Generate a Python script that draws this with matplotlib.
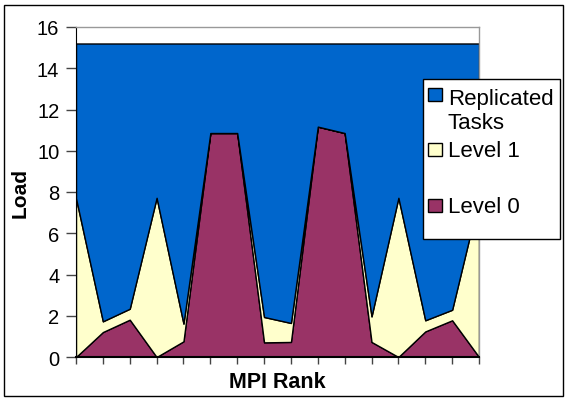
import matplotlib
matplotlib.use("Agg")
import matplotlib.pyplot as plt
from matplotlib.patches import Rectangle
import numpy as np

plt.rcParams['font.family'] = ['Liberation Sans', 'DejaVu Sans']

ranks = list(range(16))
level0 = [0.0, 1.21, 1.81, 0.0, 0.76, 10.86, 10.86, 0.71, 0.73, 11.17, 10.86, 0.73, 0.0, 1.24, 1.78, 0.0]
level1_top = [7.7, 1.73, 2.34, 7.72, 1.62, 10.86, 10.86, 1.94, 1.65, 11.17, 10.86, 1.97, 7.72, 1.78, 2.29, 7.7]
total = 15.2
level1 = [t - a for t, a in zip(level1_top, level0)]
replicated = [total - t for t in level1_top]

series_names = ["Level 0", "Level 1", "Replicated\nTasks"]
colors = ["#993366", "#FFFFCC", "#0066CC"]
yticks = [0, 2, 4, 6, 8, 10, 12, 14, 16]

W, H = 568, 402
fig = plt.figure(figsize=(W / 100, H / 100), dpi=100)
ax = fig.add_axes([76 / W, 1 - 358 / H, (479 - 76) / W, (358 - 28) / H])

ys = np.vstack([level0, level1, replicated])
ax.stackplot(ranks, ys, colors=colors, edgecolor="black", linewidth=1.0)

ax.set_xlim(ranks[0], ranks[-1])
ax.set_ylim(0, 16)
ax.set_yticks(yticks)
ax.set_xticks(ranks)
ax.set_xticklabels([])
ax.tick_params(axis="y", direction="out", length=7, width=1, labelsize=14.5, pad=5, color="#444444")
ax.tick_params(axis="x", direction="out", length=5, width=1, color="#444444")
for s in ["top", "right"]:
    ax.spines[s].set_color("#999999")
    ax.spines[s].set_linewidth(1)
ax.spines["left"].set_color("black")
ax.spines["bottom"].set_color("black")
ax.spines["bottom"].set_linewidth(1.5)


def fy(y):
    return 1 - y / H


fig.text(20 / W, fy(193), "Load", fontsize=15, fontweight="bold", rotation=90,
         ha="center", va="center")
fig.text(277 / W, fy(383), "MPI Rank", fontsize=15.5, fontweight="bold",
         ha="center", va="center")

# outer chart border
fig.patches.append(Rectangle((4 / W, fy(397)), (563 - 4) / W, (397 - 6) / H,
                             transform=fig.transFigure, fill=False, edgecolor="black", linewidth=1))

# legend (Excel-style)
fig.patches.append(Rectangle((423 / W, fy(240)), (560 - 423) / W, (240 - 80) / H,
                             transform=fig.transFigure, facecolor="white", edgecolor="black",
                             linewidth=1, zorder=5))
leg_entries = [(series_names[2], colors[2], 89, [105, 129]),
               (series_names[1], colors[1], 144, [157]),
               (series_names[0], colors[0], 200, [213])]
for label, col, ytop, bases in leg_entries:
    fig.patches.append(Rectangle((428 / W, fy(ytop + 13)), 14 / W, 13 / H,
                                 transform=fig.transFigure, facecolor=col, edgecolor="black",
                                 linewidth=1, zorder=6))
    for line, base in zip(label.split("\n"), bases):
        fig.text(448 / W, fy(base), line, fontsize=16, ha="left", va="baseline", zorder=7)

fig.savefig("out.png", dpi=100)
